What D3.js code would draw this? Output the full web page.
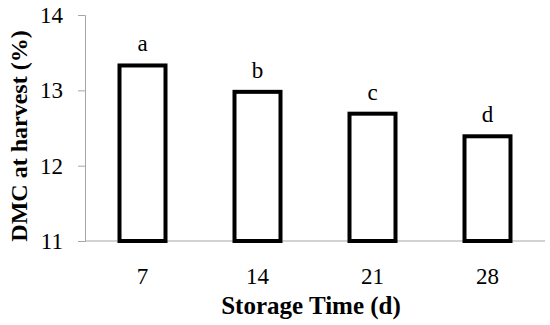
<!DOCTYPE html>
<html>
<head>
<meta charset="utf-8">
<script src="https://cdn.jsdelivr.net/npm/d3@7"></script>
<style>
  body { margin: 0; background: #fff; }
  text { font-family: "Palatino Linotype", "Book Antiqua", "Liberation Serif", serif; }
</style>
</head>
<body>
<div id="chart"></div>
<script>
// storage time categories and dry matter content values
let days = ["7", "14", "21", "28"];
let dmc = [13.33, 12.98, 12.69, 12.39];
let letters = ["a", "b", "c", "d"];
let yTicks = [11, 12, 13, 14];

let margin = {top: 15, right: 5, bottom: 84, left: 85};
let width = 550 - margin.left - margin.right,
    height = 325 - margin.top - margin.bottom;

let svg = d3.select("#chart").append("svg")
    .attr("width", 550)
    .attr("height", 325)
    .append("g")
    .attr("transform", `translate(${margin.left}, ${margin.top})`);

let x = d3.scaleBand()
    .domain(days)
    .range([0, width])
    .paddingInner(0.6)
    .paddingOuter(0.3);

let y = d3.scaleLinear()
    .domain([11, 14])
    .range([height, 0]);

// y axis
let yAxis = svg.append("g")
    .call(d3.axisLeft(y).tickValues(yTicks).tickSize(7).tickPadding(15).tickFormat(d3.format("d")));
yAxis.select(".domain").attr("stroke", "#a6a6a6");
yAxis.selectAll(".tick line").attr("stroke", "#a6a6a6");
yAxis.selectAll("text")
    .attr("font-size", "23px")
    .attr("fill", "#000")
    .style("font-family", "'Liberation Serif', serif");

// x axis baseline
svg.append("line")
    .attr("x1", 0)
    .attr("x2", width)
    .attr("y1", height)
    .attr("y2", height)
    .attr("stroke", "#a6a6a6");

// bars
svg.selectAll(".bar")
    .data(dmc)
    .enter()
    .append("rect")
    .attr("class", "bar")
    .attr("x", (d, i) => x(days[i]))
    .attr("y", d => y(d))
    .attr("width", x.bandwidth())
    .attr("height", d => height - y(d))
    .attr("fill", "#fff")
    .attr("stroke", "#000")
    .attr("stroke-width", 4);

// significance letters
svg.selectAll(".lbl")
    .data(dmc)
    .enter()
    .append("text")
    .attr("class", "lbl")
    .attr("x", (d, i) => x(days[i]) + x.bandwidth() / 2)
    .attr("y", d => y(d) - 14)
    .attr("text-anchor", "middle")
    .attr("font-size", "23px")
    .text((d, i) => letters[i]);

// x tick labels
svg.selectAll(".xlbl")
    .data(days)
    .enter()
    .append("text")
    .attr("class", "xlbl")
    .attr("x", d => x(d) + x.bandwidth() / 2)
    .attr("y", height + 43)
    .attr("text-anchor", "middle")
    .attr("font-size", "23px")
    .text(d => d);

// axis titles
svg.append("text")
    .attr("x", width / 2 - 4)
    .attr("y", height + 73)
    .attr("text-anchor", "middle")
    .attr("font-size", "25px")
    .attr("font-weight", "bold")
    .text("Storage Time (d)");

svg.append("text")
    .attr("transform", `translate(${-margin.left + 27}, ${height / 2 + 8}) rotate(-90)`)
    .attr("text-anchor", "middle")
    .attr("font-size", "24px")
    .attr("font-weight", "bold")
    .text("DMC at harvest (%)");
</script>
</body>
</html>
